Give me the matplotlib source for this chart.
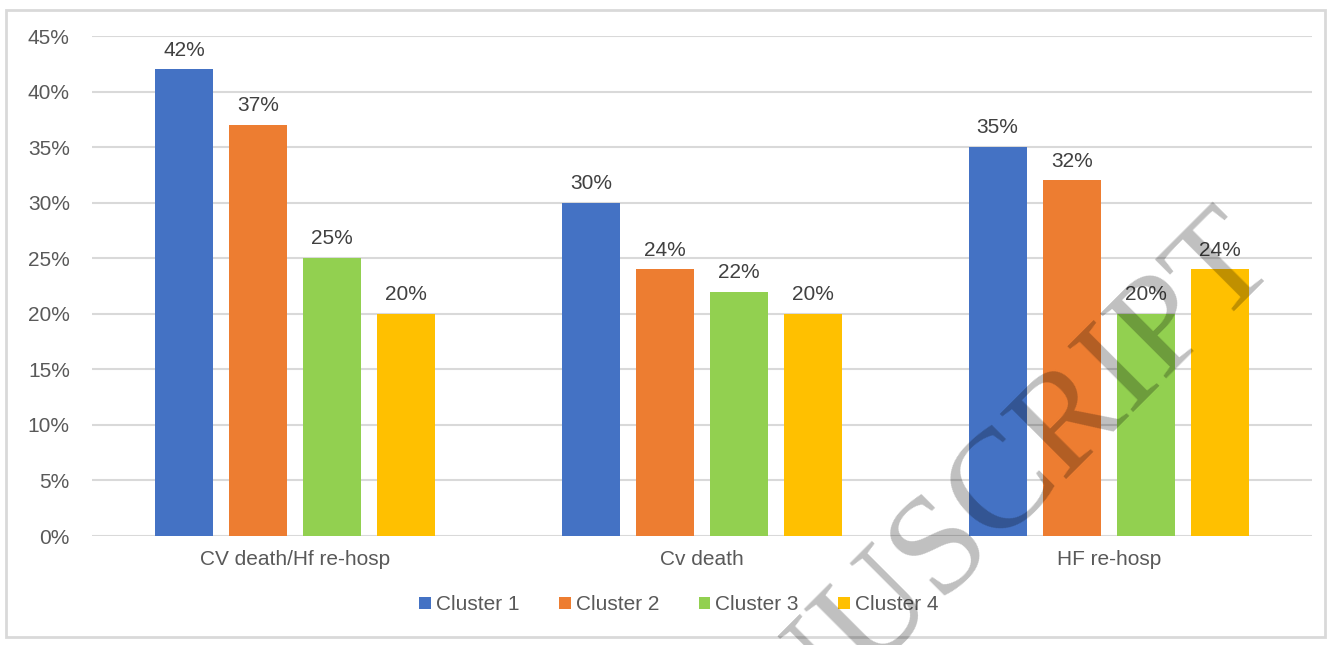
import matplotlib
matplotlib.use("Agg")
import matplotlib.pyplot as plt
from matplotlib.patches import Rectangle
import numpy as np

categories = ["CV death/Hf re-hosp", "Cv death", "HF re-hosp"]
series_names = ["Cluster 1", "Cluster 2", "Cluster 3", "Cluster 4"]
cluster1 = [0.42, 0.30, 0.35]
cluster2 = [0.37, 0.24, 0.32]
cluster3 = [0.25, 0.22, 0.20]
cluster4 = [0.20, 0.20, 0.24]
yticks = [0, 0.05, 0.10, 0.15, 0.20, 0.25, 0.30, 0.35, 0.40, 0.45]

colors = ["#4472C4", "#ED7D31", "#92D050", "#FFC000"]
text_color = "#595959"
grid_color = "#D9D9D9"
plt.rcParams["font.family"] = ["Liberation Sans", "DejaVu Sans"]
FS = 15

W, H = 1331, 645
fig = plt.figure(figsize=(W / 100, H / 100), dpi=100)
ax = fig.add_axes([92 / W, 1 - 536 / H, (1312 - 92) / W, (536 - 36) / H])

x = np.arange(len(categories))
width = 0.1425
step = 0.182
offsets = [-1.5 * step, -0.5 * step, 0.5 * step, 1.5 * step]
all_series = [cluster1, cluster2, cluster3, cluster4]
for vals, off, col, name in zip(all_series, offsets, colors, series_names):
    bars = ax.bar(x + off, vals, width=width, color=col, label=name, zorder=2)
    for b, v in zip(bars, vals):
        ax.annotate(f"{round(v * 100)}%", (b.get_x() + b.get_width() / 2, v),
                    xytext=(0, 7), textcoords="offset points", ha="center",
                    va="bottom", fontsize=FS, color="#404040", zorder=4)

ax.set_xlim(-0.5, 2.5)
ax.set_ylim(0, 0.45)
ax.set_yticks(yticks)
ax.set_yticklabels([f"{round(t * 100)}%" for t in yticks])
ax.set_xticks(x)
ax.set_xticklabels(categories)
ax.tick_params(axis="y", length=0, pad=16, labelsize=FS, labelcolor=text_color)
ax.tick_params(axis="x", length=0, pad=10, labelsize=FS, labelcolor=text_color)
ax.grid(axis="y", color=grid_color, linewidth=1.5, zorder=0)
ax.set_axisbelow(True)
for s in ax.spines.values():
    s.set_visible(False)

leg = fig.legend(loc="center", bbox_to_anchor=(679 / W, 1 - 605 / H), ncol=4,
                 frameon=False, fontsize=FS, handlelength=0.55, handleheight=0.55,
                 handletextpad=0.25, columnspacing=1.9)
for t in leg.get_texts():
    t.set_color(text_color)

fig.patches.append(Rectangle((6 / W, 1 - 637 / H), (1325 - 6) / W, (637 - 10) / H,
                             transform=fig.transFigure, fill=False,
                             edgecolor=grid_color, linewidth=2))

fig.text(1280 / W, 1 - 262 / H, "MANUSCRIPT", rotation=45, rotation_mode="anchor",
         ha="right", va="baseline", fontsize=102, family=["Liberation Serif", "DejaVu Serif"],
         color="black", alpha=0.25, zorder=10, clip_on=True)

fig.savefig("out.png", dpi=100)
